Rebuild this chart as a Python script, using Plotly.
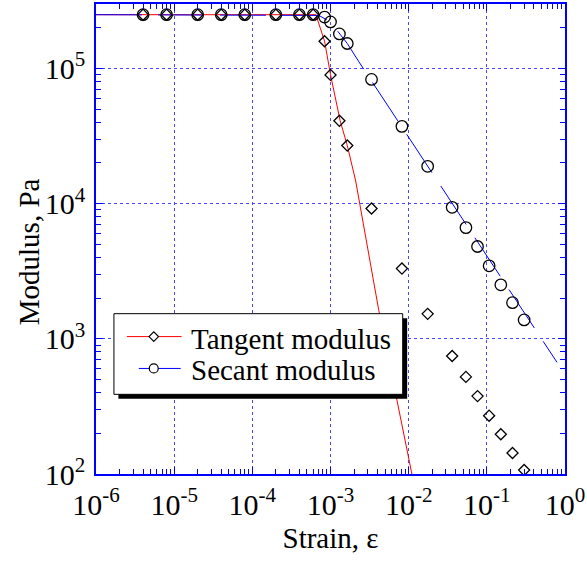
import plotly.graph_objects as go

# Measured strain levels (shared by both moduli)
strain = [4e-6, 8e-6, 2e-5, 4e-5, 8e-5, 2e-4, 4e-4, 6e-4,
          8.4e-4, 1e-3, 1.3e-3, 1.64e-3, 3.35e-3, 8.2e-3, 1.75e-2,
          3.6e-2, 5.4e-2, 7.6e-2, 0.107, 0.151, 0.213, 0.30]

# Measured moduli, Pa
tangent_modulus = [2.5e5, 2.5e5, 2.5e5, 2.5e5, 2.5e5, 2.5e5, 2.5e5, 2.5e5,
                   1.59e5, 8.96e4, 4.1e4, 2.69e4, 9.2e3, 3.31e3, 1.53e3,
                   747, 523, 377, 270, 197, 143, 107]
secant_modulus = [2.5e5, 2.5e5, 2.5e5, 2.5e5, 2.5e5, 2.5e5, 2.5e5, 2.5e5,
                  2.4e5, 2.21e5, 1.8e5, 1.53e5, 8.3e4, 3.73e4, 1.89e4,
                  9.4e3, 6.65e3, 4.82e3, 3.47e3, 2.51e3, 1.85e3, 1.38e3]

# Model curves
tangent_curve_strain = [1e-6, 6.5e-4, 8.4e-4, 1e-3, 1.33e-3, 1.64e-3, 2.1e-3, 4.15e-3, 1.1e-2]
tangent_curve_modulus = [2.5e5, 2.5e5, 1.59e5, 9e4, 4.1e4, 2.69e4, 1.47e4, 1.62e3, 100]
secant_curve_strain = [1e-6, 7.1e-4, 1e-3, 1.3e-3, 1.64e-3, 2.31e-3, 0.79]
secant_curve_modulus = [2.5e5, 2.47e5, 2.21e5, 1.8e5, 1.53e5, 1.12e5, 670]

# Axis ticks
x_ticks = [1e-6, 1e-5, 1e-4, 1e-3, 1e-2, 1e-1, 1]
x_labels = ["10<sup>-6</sup>", "10<sup>-5</sup>", "10<sup>-4</sup>", "10<sup>-3</sup>",
            "10<sup>-2</sup>", "10<sup>-1</sup>", "10<sup>0</sup>"]
y_ticks = [1e2, 1e3, 1e4, 1e5]
y_labels = ["10<sup>2</sup>", "10<sup>3</sup>", "10<sup>4</sup>", "10<sup>5</sup>"]

legend_names = ["Tangent modulus", "Secant modulus"]

RED = "#ff0000"
BLUE = "#0000ff"
GRID = "#4848ff"
FONT = "Liberation Serif"

x_minor = [k * 10.0 ** d for d in range(-6, 0) for k in range(2, 10)]
y_minor = [k * 10.0 ** d for d in range(2, 6) for k in range(2, 10)]

fig = go.Figure()

fig.add_trace(go.Scatter(x=tangent_curve_strain, y=tangent_curve_modulus, mode="lines",
                         line=dict(color=RED, width=1), showlegend=False, hoverinfo="skip"))
fig.add_trace(go.Scatter(x=secant_curve_strain, y=secant_curve_modulus, mode="lines",
                         line=dict(color=BLUE, width=1, dash="46px,16px"),
                         showlegend=False, hoverinfo="skip"))
fig.add_trace(go.Scatter(x=strain, y=tangent_modulus, mode="markers", showlegend=False,
                         name=legend_names[0],
                         marker=dict(symbol="diamond-open", size=8.5, color="black",
                                     line=dict(width=1.3, color="black"))))
fig.add_trace(go.Scatter(x=strain, y=secant_modulus, mode="markers", showlegend=False,
                         name=legend_names[1],
                         marker=dict(symbol="circle-open", size=11.5, color="black",
                                     line=dict(width=1.3, color="black"))))

axis_common = dict(
    type="log", showline=True, linecolor=BLUE, linewidth=1.5, mirror="allticks",
    ticks="inside", ticklen=7, tickcolor=BLUE, tickwidth=1,
    showgrid=True, gridcolor=GRID, griddash="dot", gridwidth=1,
    zeroline=False, ticklabeloverflow="allow",
    tickfont=dict(family=FONT, size=30, color="black"),
)

fig.update_xaxes(**axis_common, range=[-6, 0], tickmode="array", tickvals=x_ticks,
                 ticktext=x_labels, ticklabelstandoff=3,
                 minor=dict(tickmode="array", tickvals=x_minor, ticks="inside", ticklen=5,
                            tickcolor=BLUE, tickwidth=1, showgrid=False),
                 title=dict(text="Strain, ε", font=dict(family=FONT, size=29, color="black"),
                            standoff=8))
fig.update_yaxes(**axis_common, range=[2, 5.477], tickmode="array", tickvals=y_ticks,
                 ticktext=y_labels, ticklabelstandoff=3,
                 minor=dict(tickmode="array", tickvals=y_minor, ticks="inside", ticklen=5,
                            tickcolor=BLUE, tickwidth=1, showgrid=False))

# Plot-area geometry in pixels, used to place the legend box and y title
L = 96
W = 471
T = 2
H = 472


def px_x(p):
    return (p - L) / W


def px_y(p):
    return (T + H - p) / H


# Vertical axis title
fig.add_annotation(text="Modulus, Pa", xref="paper", yref="paper",
                   x=px_x(29), y=px_y(251), xanchor="center", yanchor="middle",
                   textangle=-90, showarrow=False,
                   font=dict(family=FONT, size=29, color="black"))


def rect(x0, y0, x1, y1, **kw):
    fig.add_shape(type="rect", xref="paper", yref="paper",
                  x0=px_x(x0), x1=px_x(x1), y0=px_y(y1), y1=px_y(y0), layer="above", **kw)


# Legend: drop shadow, white box, sample lines, symbols and labels
rect(118.5, 317.5, 408.5, 398.5, fillcolor="black", line=dict(width=0))
rect(114, 313, 404, 394, fillcolor="white", line=dict(color="black", width=1))

rows = [336, 368]
fig.add_shape(type="line", xref="paper", yref="paper", layer="above",
              x0=px_x(127), x1=px_x(182), y0=px_y(rows[0]), y1=px_y(rows[0]),
              line=dict(color=RED, width=1))
fig.add_shape(type="line", xref="paper", yref="paper", layer="above",
              x0=px_x(139), x1=px_x(181), y0=px_y(rows[1]), y1=px_y(rows[1]),
              line=dict(color=BLUE, width=1))

cx, r = 154, 4.8
cy = rows[0]
fig.add_shape(type="path", xref="paper", yref="paper", layer="above",
              path=(f"M {px_x(cx - r)} {px_y(cy)} L {px_x(cx)} {px_y(cy - r)} "
                    f"L {px_x(cx + r)} {px_y(cy)} L {px_x(cx)} {px_y(cy + r)} Z"),
              fillcolor="white", line=dict(color="black", width=1.2))
cy = rows[1]
fig.add_shape(type="circle", xref="paper", yref="paper", layer="above",
              x0=px_x(cx - 4.5), x1=px_x(cx + 4.5), y0=px_y(cy + 4.5), y1=px_y(cy - 4.5),
              fillcolor="white", line=dict(color="black", width=1.2))

for name, row in zip(legend_names, rows):
    fig.add_annotation(text=name, xref="paper", yref="paper", x=px_x(189), y=px_y(row + 2),
                       xanchor="left", yanchor="middle", showarrow=False,
                       font=dict(family=FONT, size=29, color="black"))

fig.update_layout(
    width=587, height=563,
    margin=dict(l=L, r=587 - L - W, t=T, b=563 - T - H),
    paper_bgcolor="white", plot_bgcolor="white",
    font=dict(family=FONT, color="black"),
    showlegend=False,
)

fig.write_html("out.html")
